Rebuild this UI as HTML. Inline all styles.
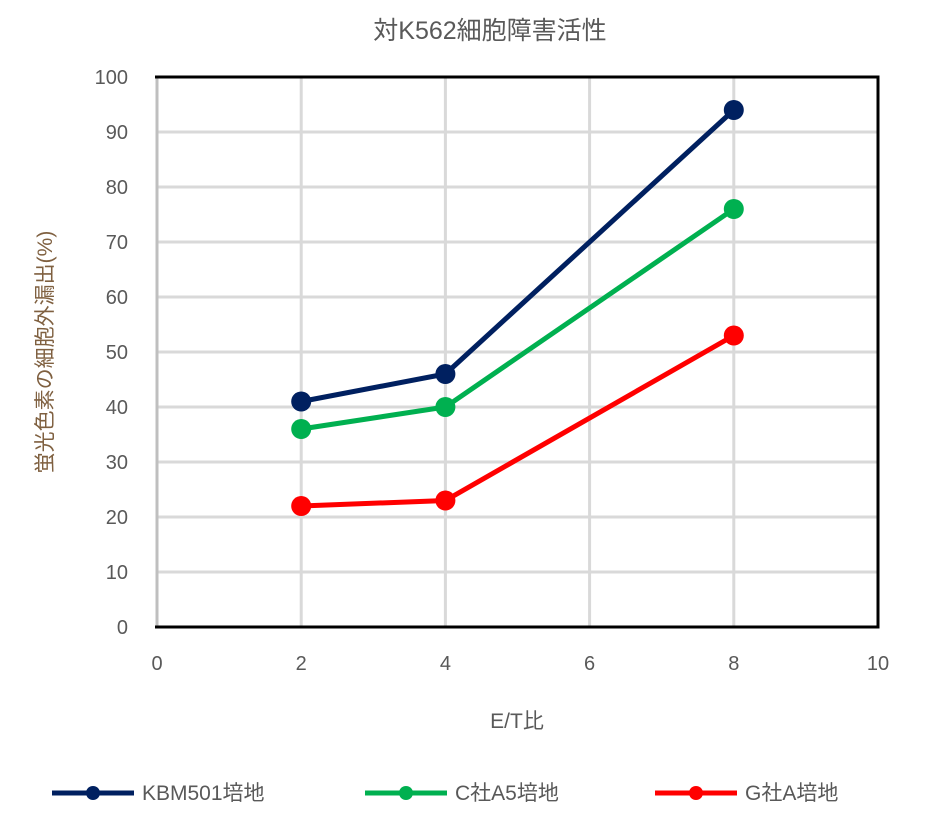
<!DOCTYPE html>
<html><head><meta charset="utf-8">
<style>
body{margin:0;background:#fff;}
svg text{font-family:"Liberation Sans","Noto Sans CJK JP",sans-serif;}
</style></head>
<body>
<svg id="chart" width="931" height="815" xmlns="http://www.w3.org/2000/svg">
<text x="490" y="39" text-anchor="middle" font-size="25" fill="#595959">対K562細胞障害活性</text>
<g id="grid"></g>
<g id="ticks"></g>
<g id="series"></g>
<text x="517" y="728" text-anchor="middle" font-size="21" fill="#595959">E/T比</text>
<text transform="translate(52,352) rotate(-90)" text-anchor="middle" font-size="21" fill="#7f6040">蛍光色素の細胞外漏出(%)</text>
<g id="legend"></g>
</svg>
<script>
const xValues=[2,4,8];
const seriesNames=["KBM501培地","C社A5培地","G社A培地"];
const kbmValues=[41,46,94];
const cValues=[36,40,76];
const gValues=[22,23,53];
const xTicks=[0,2,4,6,8,10];
const yTicks=[0,10,20,30,40,50,60,70,80,90,100];
const colors=["#002060","#00B050","#FF0000"];
const ns="http://www.w3.org/2000/svg";
const X0=157,X1=878,Y0=627,Y1=77;
const sx=v=>X0+(v-0)/(10-0)*(X1-X0);
const sy=v=>Y0-(v-0)/(100-0)*(Y0-Y1);
function mk(tag,attrs,parent){const e=document.createElementNS(ns,tag);for(const k in attrs)e.setAttribute(k,attrs[k]);parent.appendChild(e);return e;}
const grid=document.getElementById('grid'),ticks=document.getElementById('ticks'),ser=document.getElementById('series'),leg=document.getElementById('legend');
yTicks.forEach(t=>{
  if(t>0&&t<100){const l=mk('line',{x1:X0,x2:X1,y1:sy(t),y2:sy(t),stroke:'#d9d9d9','stroke-width':3},grid);
  
  }
  const tx=mk('text',{x:128,y:sy(t)+7,'text-anchor':'end','font-size':20,fill:'#595959'},ticks);tx.textContent=t;
  
  
});
xTicks.forEach(t=>{
  if(t>0&&t<10){const l=mk('line',{x1:sx(t),x2:sx(t),y1:Y1,y2:Y0,stroke:'#d9d9d9','stroke-width':3},grid);
  
  }
  const tx=mk('text',{x:sx(t),y:670,'text-anchor':'middle','font-size':20,fill:'#595959'},ticks);tx.textContent=t;
  
  
});
const la=mk('line',{x1:X0,x2:X0,y1:Y1,y2:Y0,stroke:'#bfbfbf','stroke-width':3},grid);


const fr=mk('path',{d:`M${X0-2} ${Y1} H${X1} V${Y0} H${X0-2}`,fill:'none',stroke:'#000','stroke-width':3},grid);


[kbmValues,cValues,gValues].forEach((vals,i)=>{
  const pts=vals.map((v,j)=>sx(xValues[j])+','+sy(v)).join(' ');
  const pl=mk('polyline',{points:pts,fill:'none',stroke:colors[i],'stroke-width':5},ser);
  
  
  vals.forEach((v,j)=>{const c=mk('circle',{cx:sx(xValues[j]),cy:sy(v),r:10,fill:colors[i]},ser);
  
  });
});
const lx=[52,365,655];
seriesNames.forEach((n,i)=>{
  const g=mk('g',{},leg);
  
  
  mk('line',{x1:lx[i],x2:lx[i]+82,y1:793,y2:793,stroke:colors[i],'stroke-width':5},g);
  mk('circle',{cx:lx[i]+41,cy:793,r:7,fill:colors[i]},g);
  const t=mk('text',{x:lx[i]+90,y:800,'font-size':21,fill:'#595959'},g);t.textContent=n;
});
</script>
</body></html>
